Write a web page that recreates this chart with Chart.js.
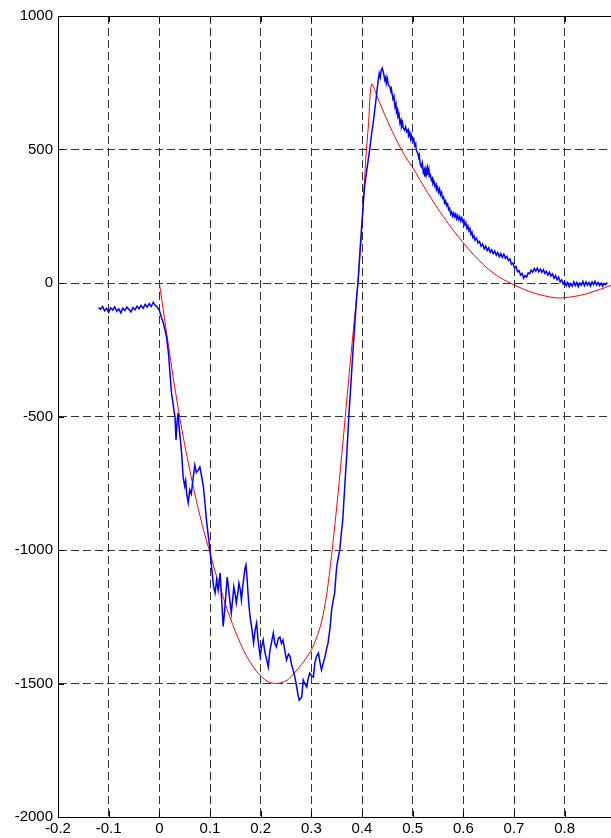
<!DOCTYPE html>
<html>
<head>
<meta charset="utf-8">
<script src="https://cdn.jsdelivr.net/npm/chart.js@4/dist/chart.umd.min.js"></script>
<style>
  html, body { margin: 0; padding: 0; background: #fff; overflow: hidden; }
  #wrap { width: 611px; height: 838px; overflow: hidden; }
</style>
</head>
<body>
<div id="wrap"><canvas id="plot" width="670" height="838"></canvas></div>
<script>
// tick values shown on the axes (axis runs on past the right edge of the picture)
const xTicks = [-0.2, -0.1, 0, 0.1, 0.2, 0.3, 0.4, 0.5, 0.6, 0.7, 0.8];
const yTicks = [-2000, -1500, -1000, -500, 0, 500, 1000];

const measured = [
  [-0.120,-92],[-0.116,-98],[-0.112,-88],[-0.108,-104],[-0.104,-95],[-0.100,-110],[-0.096,-93],[-0.092,-101],
  [-0.088,-89],[-0.084,-106],[-0.080,-97],[-0.076,-112],[-0.072,-94],[-0.068,-103],[-0.064,-90],[-0.060,-99],
  [-0.056,-108],[-0.052,-92],[-0.048,-100],[-0.044,-87],[-0.040,-96],[-0.036,-84],[-0.032,-95],[-0.028,-80],
  [-0.024,-90],[-0.020,-77],[-0.016,-88],[-0.012,-72],[-0.008,-84],[-0.004,-90],[0.000,-102],
  [0.004,-128],[0.008,-151],[0.011,-175],[0.014,-201],[0.016,-230],[0.018,-263],[0.021,-337],[0.024,-412],
  [0.027,-449],[0.029,-480],[0.031,-502],[0.033,-588],[0.035,-520],[0.037,-487],[0.039,-540],[0.041,-577],
  [0.044,-637],[0.047,-727],[0.050,-760],[0.052,-740],[0.054,-790],[0.057,-824],[0.060,-775],[0.063,-790],
  [0.067,-727],[0.070,-682],[0.073,-710],[0.077,-700],[0.080,-689],[0.083,-720],[0.087,-764],[0.090,-824],
  [0.093,-888],[0.096,-937],[0.100,-1000],[0.103,-1061],[0.107,-1136],[0.110,-1161],[0.113,-1112],[0.116,-1150],
  [0.120,-1086],[0.123,-1187],[0.126,-1286],[0.129,-1225],[0.132,-1150],[0.134,-1101],[0.137,-1150],[0.139,-1187],
  [0.142,-1236],[0.145,-1180],[0.147,-1138],[0.150,-1170],[0.152,-1199],[0.155,-1160],[0.157,-1124],[0.160,-1150],
  [0.162,-1187],[0.165,-1130],[0.167,-1101],[0.169,-1070],[0.171,-1056],[0.173,-1100],[0.175,-1161],[0.177,-1210],
  [0.179,-1248],[0.183,-1300],[0.186,-1348],[0.189,-1300],[0.192,-1273],[0.195,-1340],[0.199,-1398],[0.202,-1360],
  [0.205,-1337],[0.208,-1380],[0.212,-1412],[0.215,-1438],[0.218,-1380],[0.222,-1340],[0.225,-1311],[0.228,-1350],
  [0.231,-1363],[0.235,-1330],[0.238,-1326],[0.241,-1350],[0.244,-1337],[0.248,-1380],[0.251,-1412],[0.255,-1390],
  [0.258,-1398],[0.261,-1430],[0.264,-1449],[0.268,-1480],[0.271,-1513],[0.274,-1545],[0.276,-1562],[0.279,-1555],
  [0.281,-1550],[0.284,-1487],[0.287,-1500],[0.291,-1513],[0.294,-1480],[0.297,-1461],[0.300,-1470],[0.304,-1476],
  [0.307,-1423],[0.310,-1400],[0.314,-1386],[0.317,-1420],[0.320,-1449],[0.324,-1420],[0.327,-1400],[0.330,-1370],
  [0.333,-1348],[0.337,-1290],[0.340,-1225],[0.343,-1190],[0.346,-1161],[0.350,-1062],[0.353,-1030],[0.356,-1000],
  [0.359,-940],[0.362,-888],[0.366,-760],[0.370,-640],[0.374,-500],[0.378,-380],[0.382,-260],[0.386,-150],
  [0.390,-40],[0.392,0],[0.396,120],[0.400,230],[0.405,361],[0.410,430],[0.415,498],[0.419,560],
  [0.422,598],[0.426,660],[0.429,710],[0.432,760],[0.434,785],[0.436,770],[0.438,797],[0.440,805],
  [0.442,791],[0.445,760],[0.447,772],[0.448,748],[0.450,765],[0.452,742],[0.455,735],[0.457,718],
  [0.458,726],[0.461,690],[0.463,700],[0.465,660],[0.467,672],[0.468,640],[0.470,650],[0.471,623],
  [0.473,632],[0.475,598],[0.477,610],[0.478,586],[0.480,600],[0.481,582],[0.484,573],[0.486,585],
  [0.488,566],[0.491,575],[0.492,552],[0.494,561],[0.496,540],[0.497,555],[0.500,532],[0.502,540],
  [0.504,515],[0.506,522],[0.507,498],[0.510,486],[0.512,470],[0.513,478],[0.515,445],[0.517,436],
  [0.519,450],[0.521,415],[0.523,425],[0.524,398],[0.526,425],[0.527,408],[0.529,430],[0.530,405],
  [0.532,425],[0.533,400],[0.535,405],[0.537,385],[0.539,392],[0.540,372],[0.542,380],[0.544,362],
  [0.546,370],[0.547,350],[0.549,360],[0.551,340],[0.553,352],[0.555,330],[0.557,340],[0.559,318],
  [0.561,322],[0.563,300],[0.565,308],[0.567,290],[0.569,296],[0.571,275],[0.573,280],[0.575,258],
  [0.577,266],[0.579,250],[0.581,262],[0.583,248],[0.585,258],[0.587,240],[0.589,252],[0.591,238],
  [0.593,248],[0.595,232],[0.597,244],[0.599,230],[0.601,236],[0.603,218],[0.605,226],[0.607,205],
  [0.609,214],[0.611,196],[0.613,204],[0.615,182],[0.617,190],[0.619,170],[0.621,176],[0.623,160],
  [0.626,168],[0.629,150],[0.632,156],[0.635,138],[0.638,146],[0.641,128],[0.644,138],[0.647,122],
  [0.650,132],[0.653,115],[0.656,124],[0.659,110],[0.662,120],[0.665,104],[0.668,114],[0.671,98],
  [0.674,110],[0.677,96],[0.680,108],[0.683,92],[0.686,100],[0.689,84],[0.692,90],[0.695,70],
  [0.698,75],[0.701,56],[0.704,62],[0.707,42],[0.710,46],[0.713,30],[0.716,36],[0.719,18],
  [0.722,28],[0.725,22],[0.728,38],[0.731,35],[0.734,48],[0.737,40],[0.740,54],[0.743,44],
  [0.746,56],[0.749,42],[0.752,52],[0.755,40],[0.758,50],[0.761,36],[0.764,44],[0.767,30],
  [0.770,40],[0.773,26],[0.776,34],[0.779,18],[0.782,28],[0.785,12],[0.788,22],[0.791,4],
  [0.794,12],[0.797,-4],[0.800,6],[0.803,-10],[0.806,2],[0.809,-14],[0.812,-2],[0.815,-12],
  [0.818,4],[0.821,-10],[0.824,2],[0.827,-14],[0.830,0],[0.833,-8],[0.836,6],[0.839,-10],
  [0.842,4],[0.845,-8],[0.848,2],[0.851,-12],[0.854,4],[0.857,-6],[0.860,6],[0.863,-8],
  [0.866,2],[0.869,-10],[0.872,0],[0.875,-12],[0.878,-2],[0.881,-6],[0.884,2]
];

// fitted model (red), [x, y]
const fitted = [
  [0.000,0],[0.010,-130],[0.020,-260],[0.030,-385],[0.040,-500],[0.050,-605],[0.060,-700],[0.070,-790],
  [0.080,-870],[0.090,-945],[0.100,-1010],[0.110,-1080],[0.120,-1140],[0.130,-1200],[0.140,-1255],[0.150,-1305],
  [0.160,-1350],[0.170,-1390],[0.180,-1422],[0.190,-1450],[0.200,-1472],[0.210,-1488],[0.220,-1497],[0.234,-1500],
  [0.250,-1490],[0.260,-1474],[0.270,-1453],[0.280,-1430],[0.290,-1404],[0.300,-1375],[0.310,-1330],[0.320,-1270],
  [0.330,-1170],[0.340,-1020],[0.350,-840],[0.360,-645],[0.367,-500],[0.375,-335],[0.385,-135],[0.392,0],
  [0.400,215],[0.407,450],[0.413,600],[0.419,745],[0.430,698],[0.440,652],[0.450,608],[0.460,567],
  [0.470,528],[0.480,492],[0.490,460],[0.500,433],[0.520,368],[0.540,307],[0.560,250],[0.580,198],
  [0.600,150],[0.620,106],[0.640,68],[0.660,36],[0.680,12],[0.700,-7],[0.720,-24],[0.740,-38],
  [0.760,-48],[0.784,-56],[0.800,-55],[0.820,-50],[0.840,-42],[0.860,-30],[0.880,-17],[0.895,-6]
];

const toPoints = arr => arr.map(p => ({ x: p[0], y: p[1] }));

// short inward tick marks and the top frame line, matlab style
const frameTicks = {
  id: 'frameTicks',
  afterDraw(chart) {
    const { ctx, chartArea: a, scales: { x, y } } = chart;
    ctx.save();
    ctx.strokeStyle = '#000';
    ctx.lineWidth = 1;
    ctx.setLineDash([]);
    ctx.beginPath();
    ctx.moveTo(a.left, a.top + 0.5);
    ctx.lineTo(a.right, a.top + 0.5);
    xTicks.forEach(v => {
      const px = Math.round(x.getPixelForValue(v)) + 0.5;
      ctx.moveTo(px, a.bottom);
      ctx.lineTo(px, a.bottom - 6);
      ctx.moveTo(px, a.top);
      ctx.lineTo(px, a.top + 6);
    });
    yTicks.forEach(v => {
      const py = Math.round(y.getPixelForValue(v)) + 0.5;
      ctx.moveTo(a.left, py);
      ctx.lineTo(a.left + 6, py);
    });
    ctx.stroke();
    ctx.restore();
  }
};

const ctx = document.getElementById('plot').getContext('2d');
new Chart(ctx, {
  type: 'line',
  data: {
    datasets: [
      {
        data: toPoints(measured),
        borderColor: '#0000ff',
        borderWidth: 1.5,
        pointRadius: 0,
        tension: 0,
        fill: false
      },
      {
        data: toPoints(fitted),
        borderColor: '#ff0000',
        borderWidth: 1,
        pointRadius: 0,
        tension: 0.3,
        fill: false
      }
    ]
  },
  options: {
    responsive: false,
    animation: false,
    devicePixelRatio: 1,
    layout: { padding: { top: 16, right: 4, left: 0, bottom: 0 } },
    plugins: { legend: { display: false }, tooltip: { enabled: false } },
    scales: {
      x: {
        type: 'linear',
        min: -0.2,
        max: 1.0,
        afterBuildTicks: s => { s.ticks = xTicks.map(v => ({ value: v })); },
        afterFit: s => { s.height = 21; },
        ticks: {
          color: '#000',
          padding: 3,
          maxRotation: 0,
          autoSkip: false,
          font: { family: 'Liberation Sans', size: 15 },
          callback: v => String(Math.round(v * 10) / 10)
        },
        grid: { color: '#333', lineWidth: 1, drawTicks: false },
        border: { display: true, color: '#000', width: 1, dash: [8, 4] }
      },
      y: {
        type: 'linear',
        min: -2000,
        max: 1000,
        afterBuildTicks: s => { s.ticks = yTicks.map(v => ({ value: v })); },
        afterFit: s => { s.width = 58; },
        ticks: {
          color: '#000',
          padding: 5,
          font: { family: 'Liberation Sans', size: 15 },
          callback: v => String(v)
        },
        grid: { color: '#333', lineWidth: 1, drawTicks: false },
        border: { display: true, color: '#000', width: 1, dash: [8, 4] }
      }
    }
  },
  plugins: [frameTicks]
});
</script>
</body>
</html>
